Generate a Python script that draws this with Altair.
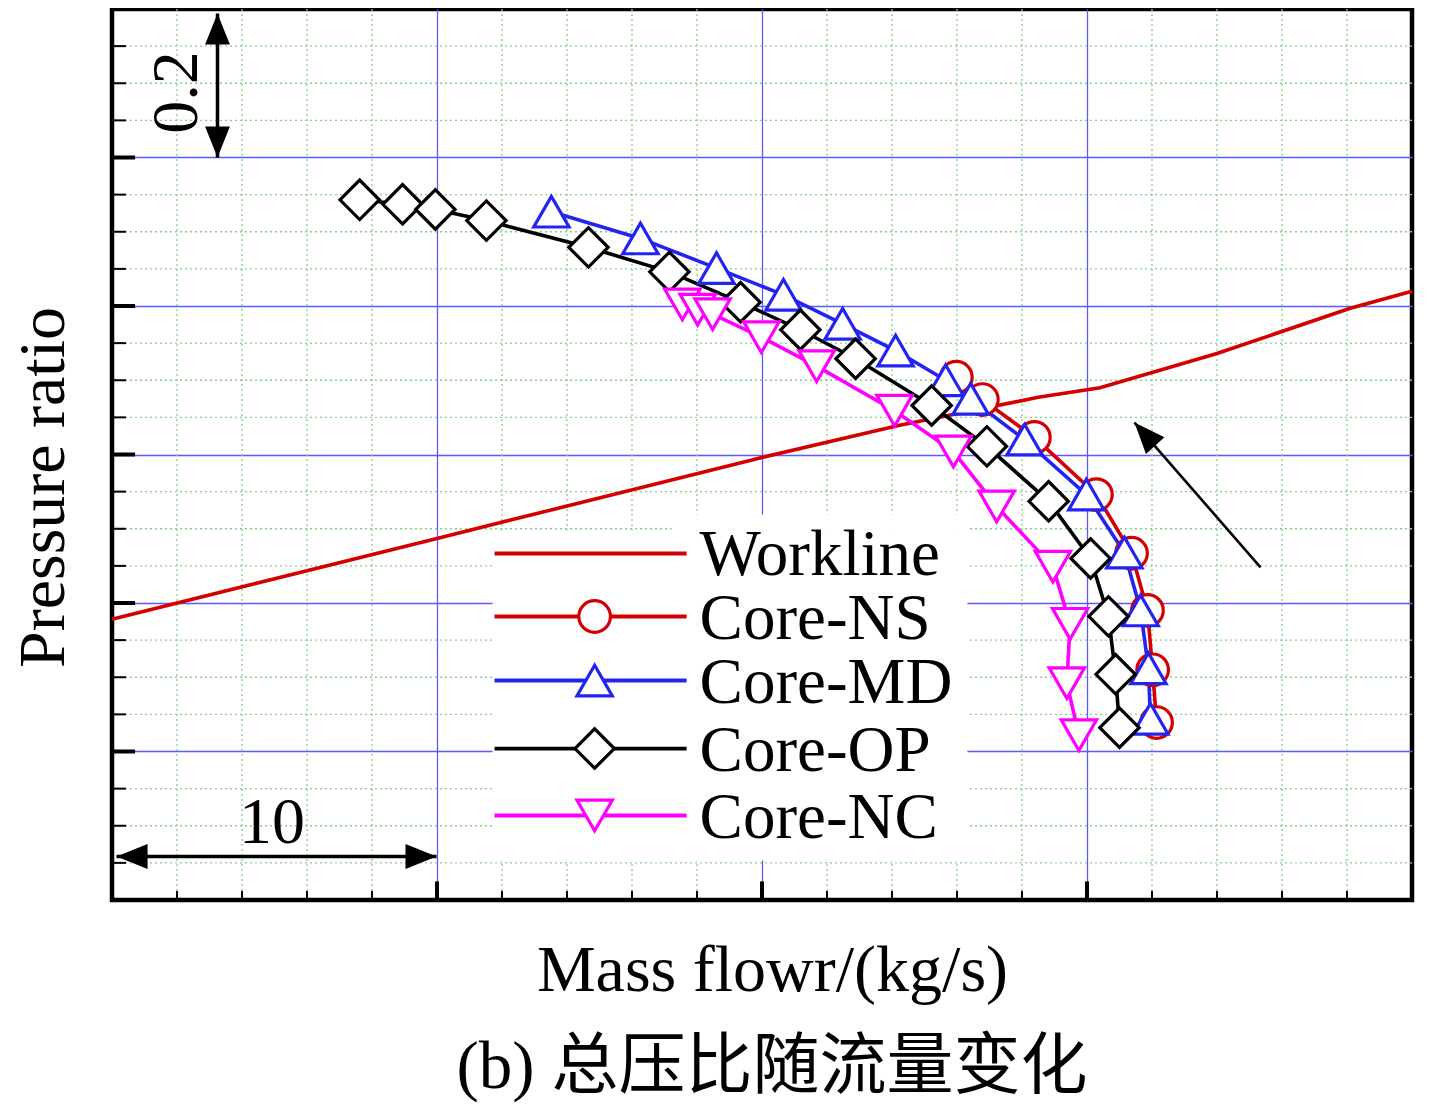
import altair as alt
import pandas as pd

# ---------------- data (axis has no tick labels) ----------------
work_x = [0.0, 10.0, 20.0, 24.2, 28.5, 30.4, 34.0, 38.1, 40.0]
work_y = [0.378, 0.487, 0.596, 0.639, 0.677, 0.690, 0.736, 0.797, 0.820]

ns_x = [25.98, 26.78, 28.38, 30.29, 31.37, 31.86, 32.02, 32.14]
ns_y = [0.704, 0.674, 0.623, 0.546, 0.467, 0.390, 0.310, 0.239]

md_x = [13.52, 16.26, 18.60, 20.66, 22.48, 24.11, 25.65, 26.42, 28.08, 29.98, 31.15, 31.65, 31.89, 31.95]
md_y = [0.927, 0.891, 0.851, 0.815, 0.776, 0.740, 0.700, 0.675, 0.620, 0.546, 0.468, 0.390, 0.312, 0.244]

op_x = [7.62, 8.94, 9.95, 11.52, 14.66, 17.15, 19.34, 21.18, 22.88, 25.22, 26.92, 28.82, 30.11, 30.66, 30.88, 31.00]
op_y = [0.943, 0.937, 0.930, 0.915, 0.879, 0.846, 0.805, 0.768, 0.729, 0.666, 0.611, 0.537, 0.460, 0.382, 0.304, 0.232]

nc_x = [17.55, 18.02, 18.48, 19.98, 21.68, 24.08, 25.89, 27.22, 28.95, 29.48, 29.38, 29.75]
nc_y = [0.802, 0.795, 0.789, 0.758, 0.719, 0.659, 0.604, 0.530, 0.449, 0.372, 0.292, 0.222]

series_names = ["Workline", "Core-NS", "Core-MD", "Core-OP", "Core-NC"]

# grid / tick positions
x_major = [10, 20, 30]
y_major = [0.2, 0.4, 0.6, 0.8, 1.0]
x_minor = [v for v in range(2, 40, 2) if v % 10 != 0]
y_minor = [round(k * 0.05, 2) for k in range(1, 24) if k % 4 != 0]

# ---------------- styles ----------------
FONT = "'Liberation Serif', 'Times New Roman', serif"
CJK_FONT = "'Liberation Serif', 'Noto Sans CJK SC', serif"
MAJOR = "#5A5AFF"
MINOR = "#86CF86"
RED = "#D40000"
styles = {
    "Workline": dict(color=RED, shape=None, size=0),
    "Core-NS": dict(color=RED, shape="circle", size=1000),
    "Core-MD": dict(color="#2424F2", shape="triangle-up", size=1250),
    "Core-OP": dict(color="black", shape="diamond", size=1550),
    "Core-NC": dict(color="#FF00FF", shape="triangle-down", size=1250),
}
series_data = {
    "Workline": (work_x, work_y),
    "Core-NS": (ns_x, ns_y),
    "Core-MD": (md_x, md_y),
    "Core-OP": (op_x, op_y),
    "Core-NC": (nc_x, nc_y),
}

XS = alt.Scale(domain=[0, 40], nice=False, zero=False)
YS = alt.Scale(domain=[0, 1.2], nice=False, zero=False)
XAX = alt.Axis(values=x_major, grid=True, gridColor=MAJOR, gridWidth=1.3, labels=False, ticks=False,
               domain=False, title="Mass flowr/(kg/s)", titleFont=FONT, titleFontSize=66,
               titleFontWeight="normal", titleColor="black", titleX=660, titleY=90,
               titleAlign="center", titleBaseline="alphabetic")
YAX = alt.Axis(values=y_major, grid=True, gridColor=MAJOR, gridWidth=1.3, labels=False, ticks=False,
               domain=False, title="Pressure ratio", titleFont=FONT, titleFontSize=66,
               titleFontWeight="normal", titleColor="black", titleAngle=270, titleX=-49, titleY=478,
               titleAlign="center", titleBaseline="alphabetic")


def X(f="x"):
    return alt.X(f"{f}:Q", scale=XS, axis=XAX)


def Y(f="y"):
    return alt.Y(f"{f}:Q", scale=YS, axis=YAX)


layers = []

# minor dotted grid
layers.append(alt.Chart(pd.DataFrame({"x": x_minor})).mark_rule(
    color=MINOR, strokeDash=[2, 3], strokeWidth=1.3).encode(x=X()))
layers.append(alt.Chart(pd.DataFrame({"y": y_minor})).mark_rule(
    color=MINOR, strokeDash=[2, 3], strokeWidth=1.3).encode(y=Y()))

# inward ticks (left & bottom)
left_ticks = pd.DataFrame({"y": y_minor + y_major,
                           "x": [0.0] * (len(y_minor) + len(y_major)),
                           "x2": [0.43] * len(y_minor) + [0.71] * len(y_major),
                           "w": [2.0] * len(y_minor) + [4.0] * len(y_major)})
bottom_ticks = pd.DataFrame({"x": x_minor + x_major,
                             "y": [0.0] * (len(x_minor) + len(x_major)),
                             "y2": [0.012] * len(x_minor) + [0.025] * len(x_major),
                             "w": [2.0] * len(x_minor) + [4.0] * len(x_major)})
layers.append(alt.Chart(left_ticks).mark_rule(color="black").encode(
    x=X(), x2="x2:Q", y=Y(), strokeWidth=alt.StrokeWidth("w:Q", scale=None)))
layers.append(alt.Chart(bottom_ticks).mark_rule(color="black").encode(
    x=X(), y=Y(), y2="y2:Q", strokeWidth=alt.StrokeWidth("w:Q", scale=None)))

# legend background boxes
legend_box = pd.DataFrame({"x": [11.71, 17.22], "x2": [26.32, 26.32],
                           "y": [0.0532, 0.4976], "y2": [0.4976, 0.5192]})
layers.append(alt.Chart(legend_box).mark_rect(fill="white", stroke=None).encode(
    x=X(), x2="x2:Q", y=Y(), y2="y2:Q"))

# series lines
for name in series_names:
    xs, ys = series_data[name]
    df = pd.DataFrame({"x": xs, "y": ys, "i": list(range(len(xs)))})
    layers.append(alt.Chart(df).mark_line(color=styles[name]["color"], strokeWidth=3.6).encode(
        x=X(), y=Y(), order="i:Q"))

# series markers
for name in series_names[1:]:
    xs, ys = series_data[name]
    st = styles[name]
    df = pd.DataFrame({"x": xs, "y": ys})
    layers.append(alt.Chart(df).mark_point(shape=st["shape"], size=st["size"], filled=True, fill="white",
                                           stroke=st["color"], strokeWidth=3.2, opacity=1).encode(x=X(), y=Y()))

# legend (data-unit placement inside plot)
leg_rows_y = [0.4667, 0.3818, 0.2956, 0.2040, 0.1138]
LEG_X0, LEG_X1, LEG_MX, LEG_TX = 11.77, 17.68, 14.85, 18.08
for name, ly in zip(series_names, leg_rows_y):
    st = styles[name]
    layers.append(alt.Chart(pd.DataFrame({"x": [LEG_X0], "x2": [LEG_X1], "y": [ly]})).mark_rule(
        color=st["color"], strokeWidth=3.8).encode(x=X(), x2="x2:Q", y=Y()))
    if st["shape"]:
        layers.append(alt.Chart(pd.DataFrame({"x": [LEG_MX], "y": [ly]})).mark_point(
            shape=st["shape"], size=st["size"], filled=True, fill="white", stroke=st["color"],
            strokeWidth=3.2, opacity=1).encode(x=X(), y=Y()))
    layers.append(alt.Chart(pd.DataFrame({"x": [LEG_TX], "y": [ly], "label": [name]})).mark_text(
        font=FONT, fontSize=65, align="left", baseline="alphabetic", dy=22, color="black").encode(
        x=X(), y=Y(), text="label:N"))

# annotation arrows
arrow_shafts = pd.DataFrame({"x": [3.246, 0.14, 35.34], "x2": [3.246, 9.985, 31.46],
                             "y": [1.0, 0.0586, 0.448], "y2": [1.194, 0.0586, 0.643],
                             "w": [3.5, 3.5, 2.6]})
layers.append(alt.Chart(arrow_shafts).mark_rule(color="black").encode(
    x=X(), x2="x2:Q", y=Y(), y2="y2:Q", strokeWidth=alt.StrokeWidth("w:Q", scale=None)))
arrow_heads = pd.DataFrame({"x": [3.246, 3.246, 0.14, 9.985, 31.46],
                            "y": [1.194, 1.0, 0.0586, 0.0586, 0.643],
                            "ang": [0, 180, 270, 90, 318]})
layers.append(alt.Chart(arrow_heads).mark_point(shape="M0,0L-0.8,2L0.8,2Z", size=961, filled=True,
                                                color="black", opacity=1, strokeWidth=0).encode(
    x=X(), y=Y(), angle=alt.Angle("ang:Q", scale=None)))

# scale labels
layers.append(alt.Chart(pd.DataFrame({"x": [4.92], "y": [0.0761], "t": ["10"]})).mark_text(
    font=FONT, fontSize=66, align="center", baseline="alphabetic", color="black").encode(
    x=X(), y=Y(), text="t:N"))
layers.append(alt.Chart(pd.DataFrame({"x": [2.6], "y": [1.0875], "t": ["0.2"]})).mark_text(
    font=FONT, fontSize=66, align="center", baseline="alphabetic", angle=270, color="black").encode(
    x=X(), y=Y(), text="t:N"))

chart = alt.layer(*layers).properties(
    width=1300, height=891,
    padding={"left": 104, "top": 1, "right": 9, "bottom": 202},
    autosize=alt.AutoSizeParams(type="none"),
    background="white",
    title=alt.TitleParams(text="(b) 总压比随流量变化", orient="bottom", anchor="middle", frame="group",
                          font=CJK_FONT, fontSize=67, fontWeight="normal", color="black",
                          offset=32, dx=10),
).configure_view(stroke="black", strokeWidth=4.5)

chart.save("out.html", embed_options={"renderer": "svg", "actions": False})
